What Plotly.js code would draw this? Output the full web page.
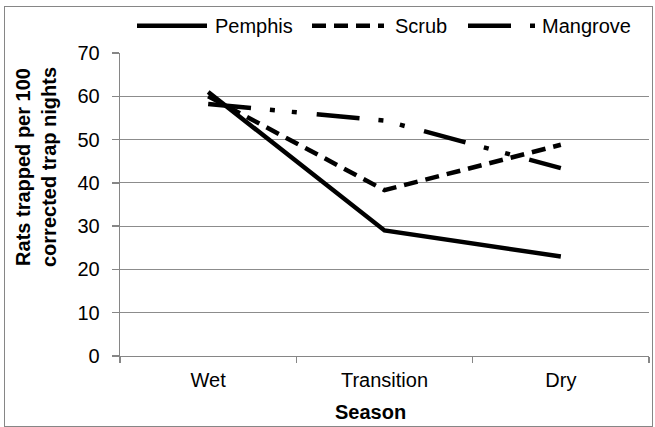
<!DOCTYPE html>
<html>
<head>
<meta charset="utf-8">
<script src="https://cdn.plot.ly/plotly-3.0.1.min.js"></script>
<style>
  html, body { margin: 0; padding: 0; background: #fff; }
  #wrap { position: relative; width: 655px; height: 427px; }
  #chart { position: absolute; left: 0; top: 0; width: 655px; height: 427px; }
  #frame { position: absolute; left: 4px; top: 6px; width: 649px; height: 421px;
           box-sizing: border-box; border: 1.5px solid #868686; pointer-events: none; }
</style>
</head>
<body>
<div id="wrap">
  <div id="chart"></div>
  <div id="frame"></div>
</div>
<script>
// ---- data ----
var categories = ['Wet', 'Transition', 'Dry'];
var seriesNames = ['Pemphis', 'Scrub', 'Mangrove'];
var pemphis = [61, 29, 23];
var scrub = [60, 38.3, 48.8];
var mangrove = [58.2, 54.4, 43.4];
var yTickVals = [0, 10, 20, 30, 40, 50, 60, 70];
var yTitleLines = ['Rats trapped per 100', 'corrected trap nights'];
var xTitle = 'Season';

// ---- styles ----
var FONT = 'Liberation Sans, Arial, sans-serif';
var FS = 20;
var dashes = ['solid', '14px,8px', '43px,19px,5px,17px,5px,20px'];
var values = [pemphis, scrub, mangrove];

var traces = values.map(function (v, i) {
  return {
    x: categories, y: v, type: 'scatter', mode: 'lines', name: seriesNames[i],
    line: { color: '#000', width: 4.5, dash: dashes[i] },
    showlegend: false, hoverinfo: 'skip'
  };
});

// custom legend (line samples longer than plotly's fixed 30px)
var L = 120, W = 529, T = 53, H = 303;
function px(x) { return (x - L) / W; }
function py(y) { return (T + H - y) / H; }
var legY = py(25.7);
var legItems = [
  { x0: 137, x1: 207, tx: 213 },
  { x0: 312, x1: 384, tx: 393 },
  { x0: 468, x1: 538, tx: 540 }
];
var shapes = [], annotations = [];
legItems.forEach(function (it, i) {
  shapes.push({ type: 'line', xref: 'paper', yref: 'paper',
    x0: px(it.x0), x1: px(it.x1), y0: legY, y1: legY,
    line: { color: '#000', width: 4.5, dash: dashes[i] } });
  annotations.push({ xref: 'paper', yref: 'paper', x: px(it.tx), y: legY,
    xanchor: 'left', yanchor: 'middle', showarrow: false, text: seriesNames[i],
    font: { family: FONT, size: FS, color: '#000' } });
});
annotations.push({ xref: 'paper', yref: 'paper', x: px(36), y: py(167),
  xanchor: 'center', yanchor: 'middle', showarrow: false, textangle: -90,
  text: '<b>' + yTitleLines.join('<br>') + '</b>',
  font: { family: FONT, size: FS, color: '#000' } });
annotations.push({ xref: 'paper', yref: 'paper', x: px(370), y: py(412),
  xanchor: 'center', yanchor: 'middle', showarrow: false,
  text: '<b>' + xTitle + '</b>',
  font: { family: FONT, size: FS, color: '#000' } });

var layout = {
  width: 655, height: 427,
  margin: { l: L, r: 655 - L - W, t: T, b: 427 - T - H, pad: 0 },
  paper_bgcolor: 'rgba(0,0,0,0)', plot_bgcolor: '#fff',
  font: { family: FONT, size: FS, color: '#000' },
  showlegend: false,
  xaxis: {
    type: 'category', range: [-0.5, 2.5], showgrid: false, zeroline: false,
    showline: true, linecolor: '#868686', linewidth: 1.3,
    ticks: 'outside', tickson: 'boundaries', ticklen: 6, tickcolor: '#868686', tickwidth: 1.3,
    ticklabelstandoff: 6,
    tickfont: { family: FONT, size: FS, color: '#000' }
  },
  yaxis: {
    range: [0, 70], tickvals: yTickVals, showgrid: true, gridcolor: '#8c8c8c', gridwidth: 1.2,
    zeroline: false, showline: true, linecolor: '#868686', linewidth: 1.3,
    ticks: 'outside', ticklen: 7, tickcolor: '#868686', tickwidth: 1.3,
    ticklabelstandoff: 8,
    tickfont: { family: FONT, size: FS, color: '#000' }
  },
  shapes: shapes,
  annotations: annotations
};

Plotly.newPlot('chart', traces, layout, { displayModeBar: false, staticPlot: true });
</script>
</body>
</html>
